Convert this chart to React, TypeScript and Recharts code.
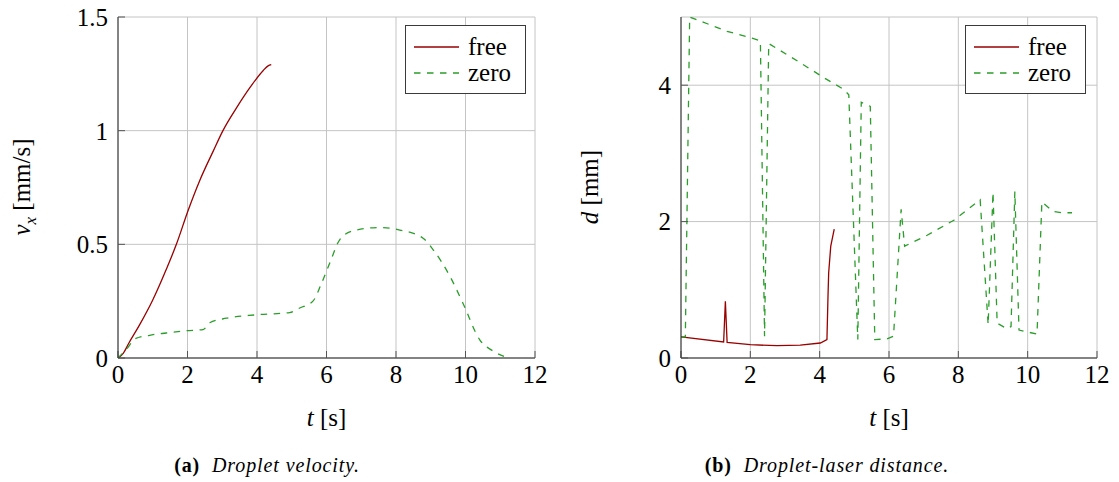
import React from "react";
import { CartesianGrid, Line, LineChart, XAxis, YAxis } from "recharts";

const FONT = "'Liberation Serif', 'DejaVu Serif', 'Noto Serif', serif";
const RED = "#990000";
const GREEN = "#2a9d2a";
const GRID = "#c4c4c4";
const FRAME = "#262626";

// ---- data ---------------------------------------------------------------

const T_TICKS = [0, 2, 4, 6, 8, 10, 12];

// (a) droplet velocity
const VX_TICKS = [0, 0.5, 1, 1.5];
const T_VX_FREE = [0, 0.15, 0.31, 0.6, 1.0, 1.39, 1.68, 2.02, 2.35, 2.74, 3.02, 3.41, 3.8, 4.18, 4.32, 4.41];
const VX_FREE = [0, 0.02, 0.065, 0.14, 0.255, 0.39, 0.5, 0.65, 0.78, 0.91, 1.0, 1.1, 1.19, 1.265, 1.285, 1.29];
const T_VX_ZERO = [0, 0.25, 0.5, 0.91, 1.39, 1.97, 2.45, 2.64, 3.12, 3.98, 4.94, 5.23, 5.61, 5.86, 6.1, 6.38, 6.77, 7.53, 8.11, 8.78, 9.07, 9.55, 9.93, 10.41, 10.8, 11.23];
const VX_ZERO = [0, 0.04, 0.085, 0.1, 0.11, 0.12, 0.125, 0.155, 0.175, 0.19, 0.2, 0.22, 0.25, 0.33, 0.42, 0.52, 0.56, 0.574, 0.563, 0.527, 0.476, 0.36, 0.24, 0.08, 0.03, 0];

// (b) droplet-laser distance
const D_TICKS = [0, 2, 4];
const T_D_FREE = [0, 1.23, 1.28, 1.33, 2.0, 2.77, 3.44, 4.02, 4.21, 4.24, 4.26, 4.32, 4.42];
const D_FREE = [0.31, 0.235, 0.83, 0.23, 0.195, 0.18, 0.19, 0.22, 0.27, 0.9, 1.25, 1.64, 1.89];
const T_D_ZERO = [0, 0.125, 0.25, 1.33, 2.05, 2.29, 2.41, 2.53, 3.44, 4.12, 4.69, 4.84, 5.1, 5.2, 5.46, 5.59, 5.94, 6.13, 6.35, 6.45, 7.1, 7.87, 8.63, 8.86, 9.0, 9.12, 9.4, 9.52, 9.63, 9.75, 10.27, 10.41, 10.73, 10.99, 11.28];
const D_ZERO = [0.31, 0.31, 5.0, 4.79, 4.69, 4.65, 0.32, 4.61, 4.33, 4.11, 3.94, 3.86, 0.27, 3.75, 3.69, 0.27, 0.28, 0.32, 2.18, 1.64, 1.8, 2.02, 2.32, 0.49, 2.43, 0.51, 0.43, 0.46, 2.44, 0.41, 0.35, 2.29, 2.15, 2.13, 2.13];

const pts = (t: number[], y: number[]) => t.map((v, i) => ({ t: v, y: y[i] }));

// ---- pieces -------------------------------------------------------------

function LegendBox() {
  return (
    <div
      style={{
        position: "absolute",
        left: 405,
        top: 25,
        width: 119,
        height: 67,
        border: "1px solid #3a3a3a",
        background: "#fff",
      }}
    >
      <svg width={119} height={67} style={{ display: "block" }}>
        <line x1={8} x2={53} y1={21} y2={21} stroke={RED} strokeWidth={1.3} />
        <line x1={8} x2={53} y1={47} y2={47} stroke={GREEN} strokeWidth={1.3} strokeDasharray="6.5 6.5" />
        <text x={62} y={29} style={{ fontFamily: FONT, fontSize: 25 }} fill="#000">free</text>
        <text x={62} y={55} style={{ fontFamily: FONT, fontSize: 25 }} fill="#000">zero</text>
      </svg>
    </div>
  );
}

function Panel({
  left,
  marginLeft,
  marginRight,
  free,
  zero,
  yDomain,
  yTicks,
  smooth,
  yLabel,
  yLabelX,
  letter,
  caption,
}: {
  left: number;
  marginLeft: number;
  marginRight: number;
  free: { t: number; y: number }[];
  zero: { t: number; y: number }[];
  yDomain: [number, number];
  yTicks: number[];
  smooth: boolean;
  yLabel: React.ReactNode;
  yLabelX: number;
  letter: string;
  caption: string;
}) {
  const tick = { fill: "#000", fontSize: 25, style: { fontFamily: FONT } };
  const plotCenter = (marginLeft + 60 + (560 - marginRight)) / 2;
  return (
    <div style={{ position: "absolute", left, top: 0, width: 560, height: 482, fontFamily: FONT }}>
      <LineChart
        width={560}
        height={388}
        margin={{ top: 17, right: marginRight, bottom: 0, left: marginLeft }}
        style={{ fontFamily: FONT }}
      >
        <CartesianGrid stroke={GRID} strokeWidth={1} />
        <XAxis
          dataKey="t"
          type="number"
          domain={[0, 12]}
          ticks={T_TICKS}
          height={30}
          allowDataOverflow
          tick={tick}
          tickSize={-7}
          tickMargin={14}
          tickLine={{ stroke: "#555" }}
          axisLine={{ stroke: FRAME }}
        />
        <XAxis
          xAxisId="top"
          orientation="top"
          dataKey="t"
          type="number"
          domain={[0, 12]}
          ticks={T_TICKS}
          height={0}
          tick={false}
          tickSize={-7}
          tickLine={{ stroke: "#555" }}
          axisLine={{ stroke: FRAME }}
        />
        <YAxis
          type="number"
          domain={yDomain}
          ticks={yTicks}
          width={60}
          allowDataOverflow
          tick={tick}
          tickSize={-7}
          tickMargin={17}
          tickLine={{ stroke: "#555" }}
          axisLine={{ stroke: FRAME }}
        />
        <YAxis
          yAxisId="right"
          orientation="right"
          type="number"
          domain={yDomain}
          ticks={yTicks}
          width={0}
          tick={false}
          tickSize={-7}
          tickLine={{ stroke: "#555" }}
          axisLine={{ stroke: FRAME }}
        />
        <Line
          data={free}
          dataKey="y"
          type={smooth ? "monotone" : "linear"}
          stroke={RED}
          strokeWidth={1.3}
          dot={false}
          isAnimationActive={false}
        />
        <Line
          data={zero}
          dataKey="y"
          type={smooth ? "monotone" : "linear"}
          stroke={GREEN}
          strokeWidth={1.3}
          strokeDasharray="6.5 6.5"
          dot={false}
          isAnimationActive={false}
        />
      </LineChart>
      <LegendBox />
      <div
        style={{
          position: "absolute",
          left: yLabelX,
          top: 187,
          transform: "translate(-50%, -50%) rotate(-90deg)",
          whiteSpace: "nowrap",
          fontSize: 25,
          lineHeight: "25px",
        }}
      >
        {yLabel}
      </div>
      <div
        style={{
          position: "absolute",
          left: plotCenter,
          top: 405,
          transform: "translateX(-50%)",
          whiteSpace: "nowrap",
          fontSize: 25,
          lineHeight: "25px",
        }}
      >
        <i>t</i> [s]
      </div>
      <div
        style={{
          position: "absolute",
          left: 267,
          top: 455,
          transform: "translateX(-50%)",
          whiteSpace: "nowrap",
          fontSize: 20,
          lineHeight: "20px",
          letterSpacing: 0.9,
        }}
      >
        <b>({letter})</b>&nbsp; <i>{caption}</i>
      </div>
    </div>
  );
}

export default function App() {
  return (
    <div style={{ position: "absolute", left: 0, top: 0, width: 1119, height: 482, background: "#fff" }}>
      <Panel
        left={0}
        marginLeft={58}
        marginRight={25}
        free={pts(T_VX_FREE, VX_FREE)}
        zero={pts(T_VX_ZERO, VX_ZERO)}
        yDomain={[0, 1.5]}
        yTicks={VX_TICKS}
        smooth
        yLabel={
          <span>
            <i>v</i>
            <sub style={{ fontSize: 17 }}>
              <i>x</i>
            </sub>{" "}
            [mm/s]
          </span>
        }
        yLabelX={26}
        letter="a"
        caption="Droplet velocity."
      />
      <Panel
        left={560}
        marginLeft={61}
        marginRight={23}
        free={pts(T_D_FREE, D_FREE)}
        zero={pts(T_D_ZERO, D_ZERO)}
        yDomain={[0, 5]}
        yTicks={D_TICKS}
        smooth={false}
        yLabel={
          <span>
            <i>d</i> [mm]
          </span>
        }
        yLabelX={29}
        letter="b"
        caption="Droplet-laser distance."
      />
    </div>
  );
}
